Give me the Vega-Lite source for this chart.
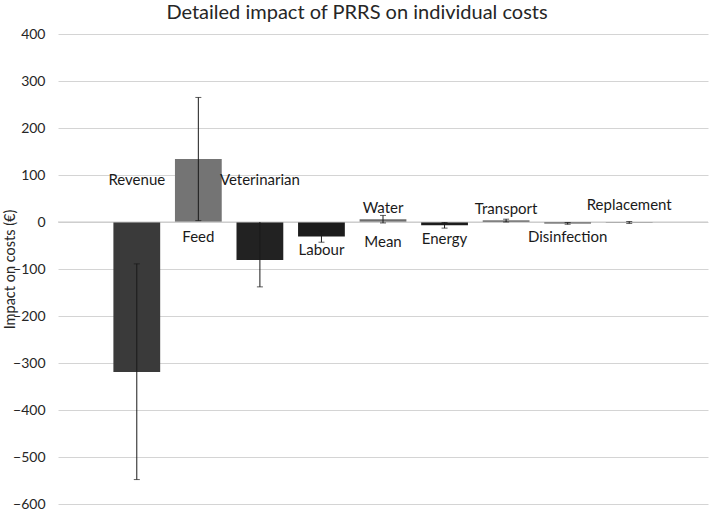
{
  "$schema": "https://vega.github.io/schema/vega-lite/v6.json",
  "autosize": {"type": "none"},
  "width": 650,
  "height": 470,
  "padding": {"left": 58, "top": 34, "right": 1, "bottom": 6},
  "background": "white",
  "config": {
    "font": "Lato",
    "view": {"stroke": null}
  },
  "title": {
    "text": "Detailed impact of PRRS on individual costs",
    "fontSize": 20,
    "font": "Lato",
    "fontWeight": "normal",
    "color": "#262626",
    "anchor": "middle",
    "dx": -26,
    "offset": 4
  },
  "datasets": {
    "costs": [
      {"cost": "Revenue", "mean": -319, "lower": -548, "upper": -89},
      {"cost": "Feed", "mean": 134, "lower": 3, "upper": 265},
      {"cost": "Veterinarian", "mean": -81, "lower": -138, "upper": 0},
      {"cost": "Labour", "mean": -31, "lower": -43, "upper": -19},
      {"cost": "Water", "mean": 6, "lower": -2, "upper": 14},
      {"cost": "Energy", "mean": -7, "lower": -13, "upper": -1},
      {"cost": "Transport", "mean": 3, "lower": 0, "upper": 6},
      {"cost": "Disinfection", "mean": -3, "lower": -5, "upper": -1},
      {"cost": "Replacement", "mean": -1, "lower": -3, "upper": 1}
    ],
    "labels": [
      {"cost": "Revenue", "label": "Revenue", "at": 89},
      {"cost": "Feed", "label": "Feed", "at": -32},
      {"cost": "Veterinarian", "label": "Veterinarian", "at": 89},
      {"cost": "Labour", "label": "Labour", "at": -60},
      {"cost": "Water", "label": "Water", "at": 30},
      {"cost": "Water", "label": "Mean", "at": -43},
      {"cost": "Energy", "label": "Energy", "at": -36},
      {"cost": "Transport", "label": "Transport", "at": 28},
      {"cost": "Disinfection", "label": "Disinfection", "at": -32},
      {"cost": "Replacement", "label": "Replacement", "at": 36}
    ]
  },
  "encoding": {
    "x": {
      "field": "cost",
      "type": "nominal",
      "sort": null,
      "scale": {
        "domain": ["Revenue", "Feed", "Veterinarian", "Labour", "Water", "Energy", "Transport", "Disinfection", "Replacement"],
        "paddingInner": 0.24,
        "paddingOuter": 0.9
      },
      "axis": null
    }
  },
  "layer": [
    {
      "data": {"name": "costs"},
      "mark": {"type": "bar"},
      "encoding": {
        "y": {
          "field": "mean",
          "type": "quantitative",
          "scale": {"domain": [-600, 400], "nice": false},
          "axis": {
            "values": [-600, -500, -400, -300, -200, -100, 0, 100, 200, 300, 400],
            "title": "Impact on costs (€)",
            "titleFont": "Lato",
            "titleFontSize": 14.5,
            "titleFontWeight": "normal",
            "titleColor": "#262626",
            "titlePadding": -5,
            "labelFont": "Lato",
            "labelFontSize": 14,
            "labelColor": "#262626",
            "labelPadding": 13,
            "ticks": false,
            "domain": false,
            "grid": true,
            "gridColor": "#d4d4d4",
            "gridWidth": 1
          }
        },
        "color": {
          "field": "cost",
          "type": "nominal",
          "legend": null,
          "scale": {
            "domain": ["Revenue", "Feed", "Veterinarian", "Labour", "Water", "Energy", "Transport", "Disinfection", "Replacement"],
            "range": ["#3a3a3a", "#747474", "#222222", "#1c1c1c", "#6e6e6e", "#1c1c1c", "#3a3a3a", "#444444", "#555555"]
          }
        }
      }
    },
    {
      "data": {"values": [{"z": 0}]},
      "mark": {"type": "rule", "color": "#c8c8c8", "strokeWidth": 1},
      "encoding": {
        "x": null,
        "y": {"field": "z", "type": "quantitative"}
      }
    },
    {
      "data": {"name": "costs"},
      "mark": {"type": "rule", "color": "#1a1a1a", "strokeWidth": 1},
      "encoding": {
        "y": {"field": "lower", "type": "quantitative"},
        "y2": {"field": "upper"}
      }
    },
    {
      "data": {"name": "costs"},
      "mark": {"type": "tick", "color": "#1a1a1a", "size": 6, "thickness": 1},
      "encoding": {
        "y": {"field": "lower", "type": "quantitative"}
      }
    },
    {
      "data": {"name": "costs"},
      "transform": [{"filter": "datum.cost !== 'Veterinarian'"}],
      "mark": {"type": "tick", "color": "#1a1a1a", "size": 6, "thickness": 1},
      "encoding": {
        "y": {"field": "upper", "type": "quantitative"}
      }
    },
    {
      "data": {"name": "labels"},
      "mark": {"type": "text", "font": "Lato", "fontSize": 15, "color": "#1a1a1a", "baseline": "middle", "align": "center"},
      "encoding": {
        "y": {"field": "at", "type": "quantitative"},
        "text": {"field": "label"}
      }
    }
  ]
}
